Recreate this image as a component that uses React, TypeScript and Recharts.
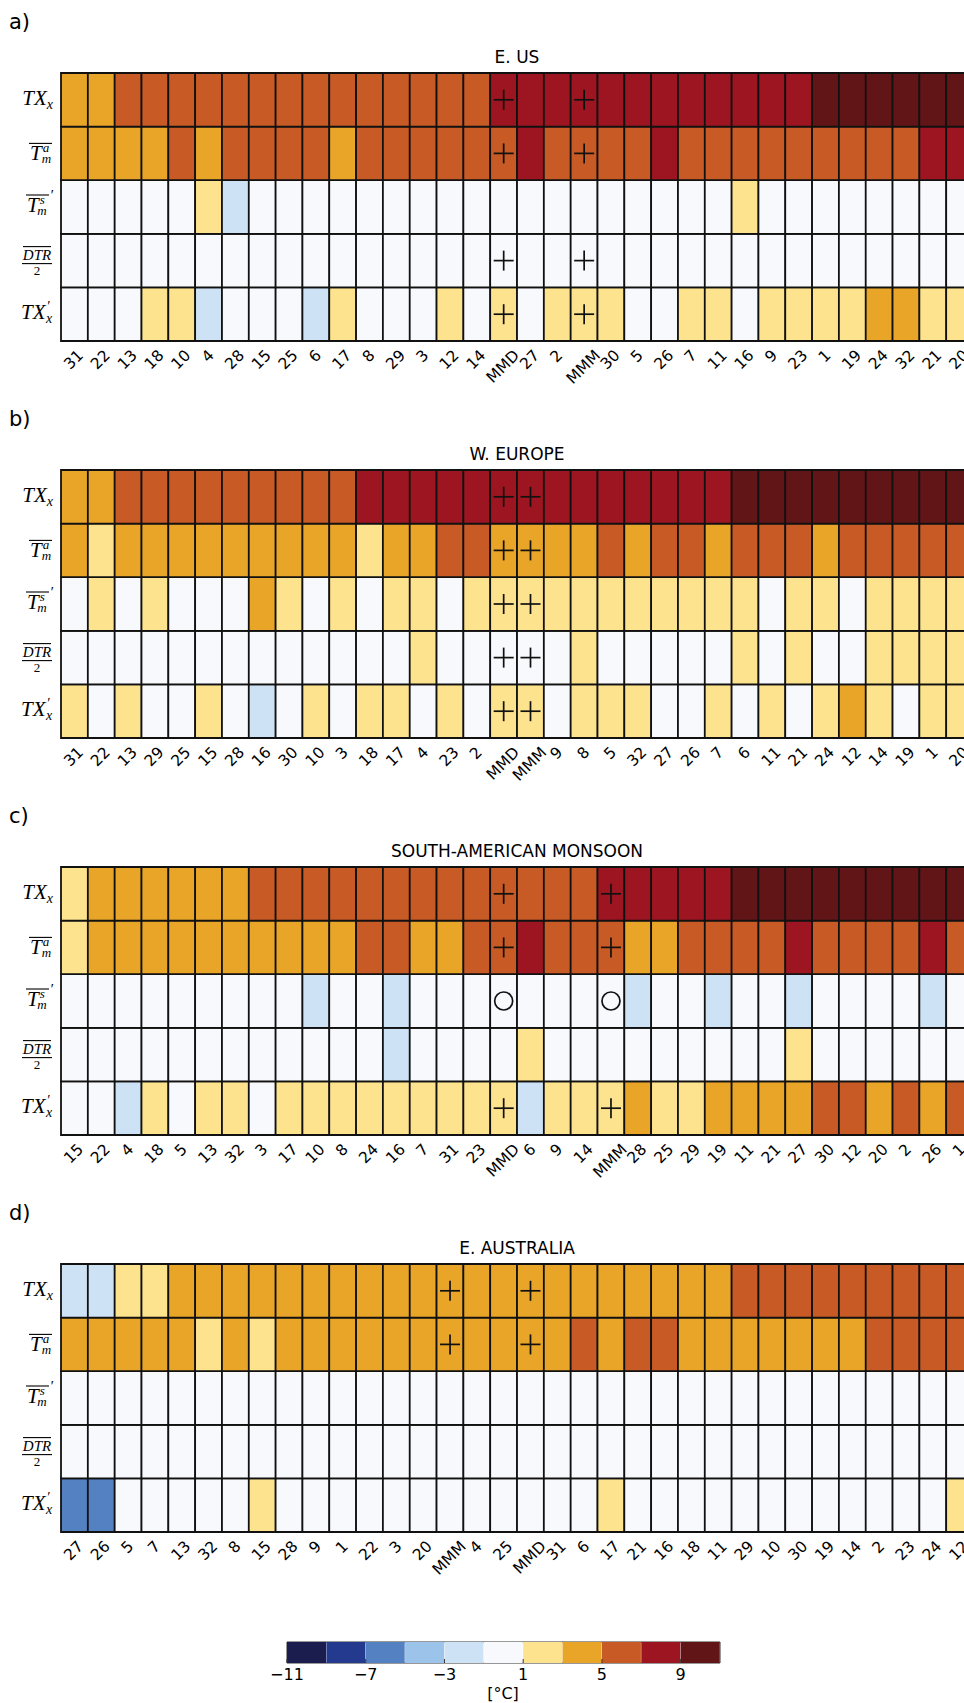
import React from 'react';
import { BarChart, Bar, XAxis, YAxis, Cell, LabelList, ReferenceArea } from 'recharts';

// ---------- colour scale ----------
const binEdges = [-11, -9, -7, -5, -3, -1, 1, 3, 5, 7, 9, 11];
const binColors = ['#1b1d4f', '#233a8e', '#5481c1', '#9cc4ea', '#cde2f5', '#f8f9fd', '#fde38d', '#e8a528', '#c85a25', '#9d1520', '#621517'];
const cbTicks = [-11, -7, -3, 1, 5, 9];

function colorFor(v: number) {
  let i = 0;
  while (i < binColors.length - 1 && v >= binEdges[i + 1]) i++;
  return binColors[i];
}

// ---------- a) E. US ----------
const usCats = ['31','22','13','18','10','4','28','15','25','6','17','8','29','3','12','14','MMD','27','2','MMM','30','5','26','7','11','16','9','23','1','19','24','32','21','20'];
const usTXx  = [4,4,6,6,6,6,6,6,6,6,6,6,6,6,6,6, 8,8,8,8, 8,8,8,8,8,8,8,8, 10,10,10,10,10,10];
const usTma  = [4,4,4,4,6,4,6,6,6,6,4,6,6,6,6,6, 6,8,6,6, 6,6,8,6,6,6,6,6, 6,6,6,6,8,8];
const usTms  = [0,0,0,0,0,2,-2,0,0,0,0,0,0,0,0,0, 0,0,0,0, 0,0,0,0,0,2,0,0, 0,0,0,0,0,0];
const usDTR  = [0,0,0,0,0,0,0,0,0,0,0,0,0,0,0,0, 0,0,0,0, 0,0,0,0,0,0,0,0, 0,0,0,0,0,0];
const usTXxp = [0,0,0,2,2,-2,0,0,0,-2,2,0,0,0,2,0, 2,0,2,2, 2,0,0,2,2,0,2,2, 2,2,4,4,2,2];
const usMarks = ['+', '+', '', '+', '+'];

// ---------- b) W. EUROPE ----------
const euCats = ['31','22','13','29','25','15','28','16','30','10','3','18','17','4','23','2','MMD','MMM','9','8','5','32','27','26','7','6','11','21','24','12','14','19','1','20'];
const euTXx  = [4,4,6,6,6,6,6,6,6,6,6,8,8,8,8,8, 8,8, 8,8,8,8,8,8,8, 10,10,10,10,10,10,10,10,10];
const euTma  = [4,2,4,4,4,4,4,4,4,4,4,2,4,4,6,6, 4,4, 4,4,6,4,6,6,4, 6,6,6,4,6,6,6,6,6];
const euTms  = [0,2,0,2,0,0,0,4,2,0,2,0,2,2,0,2, 2,2, 2,2,2,2,2,2,2, 2,0,2,2,0,2,2,2,2];
const euDTR  = [0,0,0,0,0,0,0,0,0,0,0,0,0,2,0,0, 0,0, 0,2,0,0,0,0,0, 2,0,2,0,0,2,2,2,2];
const euTXxp = [2,0,2,0,0,2,0,-2,0,2,0,2,2,0,2,0, 2,2, 0,2,2,2,0,0,2, 0,2,0,2,4,2,0,2,2];
const euMarks = ['+', '+', '+', '+', '+'];

// ---------- c) SOUTH-AMERICAN MONSOON ----------
const saCats = ['15','22','4','18','5','13','32','3','17','10','8','24','16','7','31','23','MMD','6','9','14','MMM','28','25','29','19','11','21','27','30','12','20','2','26','1'];
const saTXx  = [2,4,4,4,4,4,4,6,6,6,6,6,6,6,6,6, 6,6,6,6, 8,8,8,8,8, 10,10,10,10,10,10,10,10,10];
const saTma  = [2,4,4,4,4,4,4,4,4,4,4,6,6,4,4,6, 6,8,6,6, 6,4,4,6,6, 6,6,8,6,6,6,6,8,6];
const saTms  = [0,0,0,0,0,0,0,0,0,-2,0,0,-2,0,0,0, 0,0,0,0, 0,-2,0,0,-2, 0,0,-2,0,0,0,0,-2,0];
const saDTR  = [0,0,0,0,0,0,0,0,0,0,0,0,-2,0,0,0, 0,2,0,0, 0,0,0,0,0, 0,0,2,0,0,0,0,0,0];
const saTXxp = [0,0,-2,2,0,2,2,0,2,2,2,2,2,2,2,2, 2,-2,2,2, 2,4,2,2,4, 4,4,4,6,6,4,6,4,6];
const saMarks = ['+', '+', 'o', '', '+'];

// ---------- d) E. AUSTRALIA ----------
const auCats = ['27','26','5','7','13','32','8','15','28','9','1','22','3','20','MMM','4','25','MMD','31','6','17','21','16','18','11','29','10','30','19','14','2','23','24','12'];
const auTXx  = [-2,-2,2,2,4,4,4,4,4,4,4,4,4,4, 4,4,4,4, 4,4,4,4,4,4,4, 6,6,6,6,6,6,6,6,6];
const auTma  = [4,4,4,4,4,2,4,2,4,4,4,4,4,4, 4,4,4,4, 4,6,4,6,6,4,4, 4,4,4,4,4,6,6,6,6];
const auTms  = [0,0,0,0,0,0,0,0,0,0,0,0,0,0, 0,0,0,0, 0,0,0,0,0,0,0, 0,0,0,0,0,0,0,0,0];
const auDTR  = [0,0,0,0,0,0,0,0,0,0,0,0,0,0, 0,0,0,0, 0,0,0,0,0,0,0, 0,0,0,0,0,0,0,0,0];
const auTXxp = [-6,-6,0,0,0,0,0,2,0,0,0,0,0,0, 0,0,0,0, 0,0,2,0,0,0,0, 0,0,0,0,0,0,0,0,2];
const auMarks = ['+', '+', '', '', ''];

type Panel = { letter: string; title: string; top: number; cats: string[]; rows: number[][]; marks: string[] };

const panels: Panel[] = [
  { letter: 'a)', title: 'E. US', top: 73, cats: usCats, rows: [usTXx, usTma, usTms, usDTR, usTXxp], marks: usMarks },
  { letter: 'b)', title: 'W. EUROPE', top: 470, cats: euCats, rows: [euTXx, euTma, euTms, euDTR, euTXxp], marks: euMarks },
  { letter: 'c)', title: 'SOUTH-AMERICAN MONSOON', top: 867, cats: saCats, rows: [saTXx, saTma, saTms, saDTR, saTXxp], marks: saMarks },
  { letter: 'd)', title: 'E. AUSTRALIA', top: 1264, cats: auCats, rows: [auTXx, auTma, auTms, auDTR, auTXxp], marks: auMarks },
];

// ---------- layout constants ----------
const SANS = "'DejaVu Sans', Verdana, sans-serif";
const SERIF = "'Liberation Serif', 'DejaVu Serif', serif";
const W = 1000;
const MT = 4;
const PH = 268;
const XH = 70;
const YW = 61;
const MR = 27;

const CB_LEFT = 287;
const CB_RIGHT = 720;
const CB_TOP = 1642;
const CB_H = 21;

const charW: Record<string, number> = { M: 0.863, D: 0.77 };
function textWidth(s: string, f: number) {
  let w = 0;
  for (const ch of s) w += (charW[ch] ?? 0.636) * f;
  return w;
}

function ColLabel(props: any) {
  const { x, payload, top } = props;
  const label = String(payload?.value ?? '');
  const f = 15.5;
  const L = textWidth(label, f);
  const a = 0.76 * f;
  const d = 0.24 * f;
  const ax = x + 0.354 * (L + a - d);
  const ay = top + 0.707 * a;
  return (
    <text x={ax} y={ay} transform={`rotate(-45 ${ax} ${ay})`} textAnchor="end" fontSize={f} fontFamily={SANS} fill="#000">
      {label}
    </text>
  );
}

function RowLabel(props: any) {
  const cy = props.y;
  const v = props.payload?.value ?? 0;
  const idx = Math.round(4.5 - v);
  const rx = 53;
  const it = { fontFamily: SERIF, fontStyle: 'italic' as const, fill: '#000' };
  if (idx === 0) {
    return (
      <text x={rx} y={cy + 5} textAnchor="end" fontSize={21} {...it}>
        TX<tspan fontSize={14} dy={4}>x</tspan>
      </text>
    );
  }
  if (idx === 1 || idx === 2) {
    const sup = idx === 1 ? 'a' : 's';
    const off = idx === 1 ? 0 : -2;
    const sh = idx === 1 ? 0 : -3;
    return (
      <g>
        <line x1={rx - 24 + sh} x2={rx - 1 + sh} y1={cy - 10 + off} y2={cy - 10 + off} stroke="#000" strokeWidth={1.1} />
        <text x={rx - 23 + sh} y={cy + 7 + off} fontSize={21} {...it}>
          T<tspan fontSize={13} dx="1 -7.5" dy="-8 11">{sup + 'm'}</tspan>
          {idx === 2 && <tspan fontSize={15} dx={3} dy={-15}>′</tspan>}
        </text>
      </g>
    );
  }
  if (idx === 3) {
    const xc = rx - 16;
    return (
      <g>
        <line x1={xc - 14} x2={xc + 14} y1={cy - 14} y2={cy - 14} stroke="#000" strokeWidth={1.1} />
        <text x={xc} y={cy - 1} textAnchor="middle" fontSize={15} {...it}>DTR</text>
        <line x1={xc - 15} x2={xc + 15} y1={cy + 3} y2={cy + 3} stroke="#000" strokeWidth={1.1} />
        <text x={xc} y={cy + 14} textAnchor="middle" fontSize={13} fontFamily={SERIF} fill="#000">2</text>
      </g>
    );
  }
  return (
    <text x={rx - 32} y={cy + 5} fontSize={21} {...it}>
      TX<tspan fontSize={14} dx="1 -3.5" dy="-8 12">{'′x'}</tspan>
    </text>
  );
}

function Marker(props: any) {
  const vb = props.viewBox || {};
  const x = vb.x ?? props.x;
  const y = vb.y ?? props.y;
  const w = vb.width ?? props.width;
  const h = vb.height ?? props.height;
  const value = props.value;
  if (!value || x == null) return null;
  const cx = x + w / 2;
  const cy = y + h / 2;
  if (value === '+') {
    return (
      <g>
        <line x1={cx - 10} x2={cx + 10} y1={cy} y2={cy} stroke="#111" strokeWidth={1.7} />
        <line x1={cx} x2={cx} y1={cy - 10} y2={cy + 10} stroke="#111" strokeWidth={1.7} />
      </g>
    );
  }
  return <circle cx={cx} cy={cy} r={9} fill="none" stroke="#111" strokeWidth={1.7} />;
}

function Heatmap({ p }: { p: Panel }) {
  const data = p.cats.map((c) => {
    const d: any = { name: c };
    for (let r = 0; r < 5; r++) {
      d['s' + r] = 1;
      d['m' + r] = c === 'MMD' || c === 'MMM' ? p.marks[r] : '';
    }
    return d;
  });
  const bottom = MT + PH;
  return (
    <div style={{ position: 'absolute', left: 0, top: p.top - MT }}>
      <BarChart width={W} height={MT + PH + XH} data={data} margin={{ top: MT, right: MR, left: 0, bottom: 0 }} barCategoryGap={0} barGap={0}>
        <XAxis dataKey="name" type="category" interval={0} tickLine={false} axisLine={false} height={XH}
          tick={(t: any) => <ColLabel {...t} top={bottom + 7} />} />
        <YAxis type="number" domain={[0, 5]} ticks={[0.5, 1.5, 2.5, 3.5, 4.5]} interval={0} tickLine={false} axisLine={false} width={YW}
          tick={(t: any) => <RowLabel {...t} />} />
        {[4, 3, 2, 1, 0].map((r) => (
          <Bar key={r} dataKey={'s' + r} stackId="h" isAnimationActive={false} stroke="#111" strokeWidth={1.8}>
            {p.rows[r].map((v, j) => (
              <Cell key={j} fill={colorFor(v)} />
            ))}
            <LabelList dataKey={'m' + r} content={Marker} />
          </Bar>
        ))}
      </BarChart>
    </div>
  );
}

const cbData = binColors.map((c, i) => ({ name: String(binEdges[i]), v: 1 }));

function CbTick(props: any) {
  const { x, payload } = props;
  const v = Number(payload?.value);
  if (!cbTicks.includes(v)) return null;
  const bw = (CB_RIGHT - CB_LEFT) / binColors.length;
  const xe = x - bw / 2;
  const s = v < 0 ? '−' + Math.abs(v) : String(v);
  return (
    <g>
      <line x1={xe} x2={xe} y1={2 + CB_H} y2={2 + CB_H - 4} stroke="#333" strokeWidth={1} />
      <text x={xe} y={2 + CB_H + 17} textAnchor="middle" fontSize={16} fontFamily={SANS} fill="#000">{s}</text>
    </g>
  );
}

function ColorBar() {
  return (
    <div style={{ position: 'absolute', left: 0, top: CB_TOP - 2 }}>
      <BarChart width={964} height={2 + CB_H + 30} data={cbData}
        margin={{ top: 2, right: 964 - CB_RIGHT, left: CB_LEFT, bottom: 0 }} barCategoryGap={0} barGap={0}>
        <XAxis dataKey="name" type="category" interval={0} tickLine={false} axisLine={false} height={30} tick={CbTick} />
        <YAxis type="number" domain={[0, 1]} hide />
        <Bar dataKey="v" isAnimationActive={false}>
          {binColors.map((c, i) => (
            <Cell key={i} fill={c} />
          ))}
        </Bar>
        <ReferenceArea x1={cbData[0].name} x2={cbData[cbData.length - 1].name} y1={0} y2={1} fill="none" fillOpacity={0} stroke="#333" strokeWidth={1} ifOverflow="visible" />
      </BarChart>
    </div>
  );
}

export default function App() {
  return (
    <div style={{ position: 'absolute', left: 0, top: 0, width: 964, height: 1703, overflow: 'hidden', background: '#fff' }}>
      <svg width={964} height={1703} style={{ position: 'absolute', left: 0, top: 0 }}>
        {panels.map((p) => (
          <g key={p.letter}>
            <text x={9} y={p.top - 44} fontSize={21} fontFamily={SANS} fill="#000">{p.letter}</text>
            <text x={517} y={p.top - 10} fontSize={17} fontFamily={SANS} fill="#000" textAnchor="middle">{p.title}</text>
          </g>
        ))}
        <text x={503} y={1699} fontSize={16} fontFamily={SANS} fill="#000" textAnchor="middle">[°C]</text>
      </svg>
      {panels.map((p) => (
        <Heatmap key={p.letter} p={p} />
      ))}
      <ColorBar />
    </div>
  );
}
